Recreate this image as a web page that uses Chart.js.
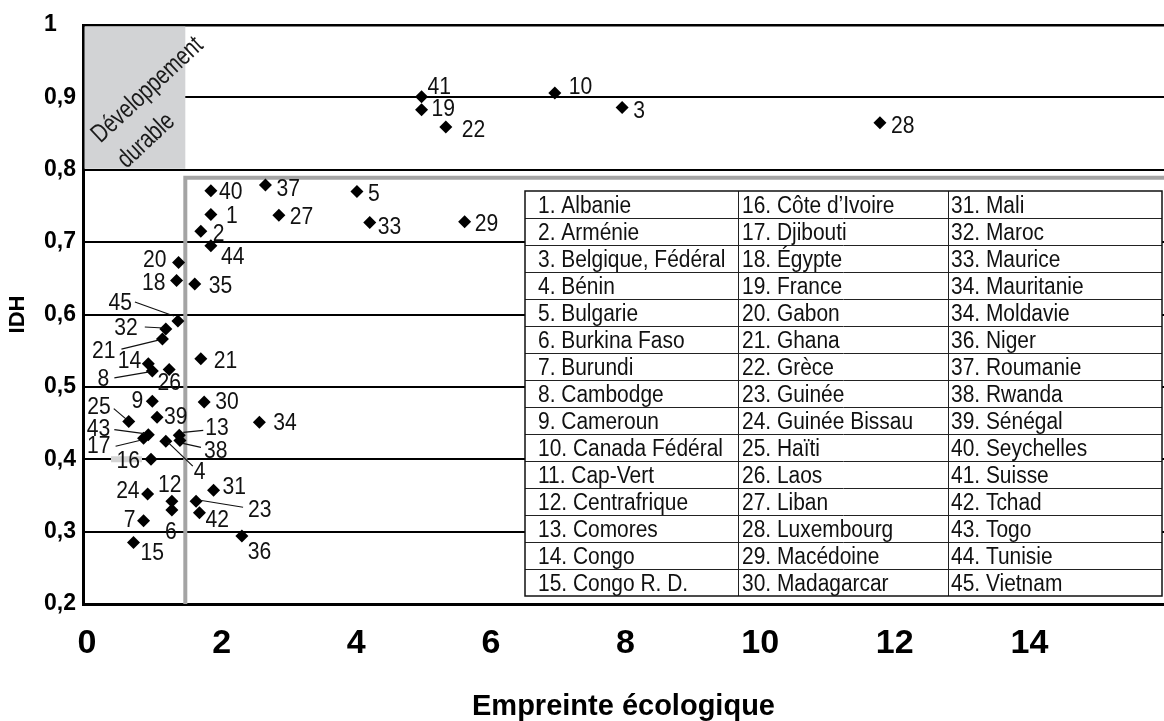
<!DOCTYPE html>
<html lang="fr">
<head>
<meta charset="utf-8">
<title>IDH et empreinte écologique</title>
<script src="https://cdn.jsdelivr.net/npm/chart.js@4.4.1/dist/chart.umd.min.js"></script>
<style>
  html, body { margin: 0; padding: 0; background: #fff; }
</style>
</head>
<body>
<canvas id="chart" width="1164" height="721"></canvas>
<script>
// point numbers (see the table), ecological footprint (x) and HDI (y)
const numbers = ['1', '2', '3', '4', '5', '6', '7', '8', '9', '10', '12', '13', '14', '15', '16',
  '17', '18', '19', '20', '21', '21', '22', '23', '24', '25', '26', '27', '28', '29', '30', '31',
  '32', '33', '34', '35', '36', '37', '38', '39', '40', '41', '42', '43', '44', '45'];
const footprint = [1.84, 1.69, 7.95, 1.17, 4.01, 1.26, 0.84, 0.97, 0.97, 6.95, 1.26, 1.37, 0.91,
  0.69, 0.95, 0.84, 1.33, 4.97, 1.36, 1.12, 1.69, 5.33, 1.62, 0.90, 0.62, 1.22, 2.85, 11.78, 5.61,
  1.74, 1.88, 1.17, 4.20, 2.56, 1.60, 2.30, 2.65, 1.38, 1.04, 1.84, 4.97, 1.67, 0.91, 1.84, 1.35];
const hdi = [0.738, 0.715, 0.886, 0.425, 0.770, 0.330, 0.315, 0.522, 0.480, 0.906, 0.342, 0.433,
  0.532, 0.285, 0.400, 0.429, 0.647, 0.883, 0.672, 0.566, 0.539, 0.859, 0.342, 0.352, 0.452, 0.524,
  0.737, 0.865, 0.728, 0.479, 0.357, 0.580, 0.727, 0.451, 0.642, 0.294, 0.779, 0.426, 0.458, 0.771,
  0.901, 0.326, 0.434, 0.695, 0.591];

const xTicks = [0, 2, 4, 6, 8, 10, 12, 14];
const yTicks = [0.2, 0.3, 0.4, 0.5, 0.6, 0.7, 0.8, 0.9, 1];
const sustainLimit = 1.46;  // footprint limit of the "développement durable" box
const frameHdi = 0.789;     // top of the grey frame

const countries = [
  '1. Albanie', '2. Arménie', '3. Belgique, Fédéral', '4. Bénin', '5. Bulgarie', '6. Burkina Faso',
  '7. Burundi', '8. Cambodge', '9. Cameroun', '10. Canada Fédéral', '11. Cap-Vert', '12. Centrafrique',
  '13. Comores', '14. Congo', '15. Congo R. D.',
  '16. Côte d\u2019Ivoire', '17. Djibouti', '18. Égypte', '19. France', '20. Gabon', '21. Ghana',
  '22. Grèce', '23. Guinée', '24. Guinée Bissau', '25. Haïti', '26. Laos', '27. Liban',
  '28. Luxembourg', '29. Macédoine', '30. Madagarcar',
  '31. Mali', '32. Maroc', '33. Maurice', '34. Mauritanie', '34. Moldavie', '36. Niger',
  '37. Roumanie', '38. Rwanda', '39. Sénégal', '40. Seychelles', '41. Suisse', '42. Tchad',
  '43. Togo', '44. Tunisie', '45. Vietnam'
];

// where each number sits next to its diamond: align, dx, dy, optional leader line
const labelPlace = [
  ['l', 15, 2], ['l', 12, 3], ['l', 11, 4], ['l', 28, 31, [2, 1, 27, 25]], ['l', 11, 3],
  ['c', -1, 22], ['r', -8, 0], ['r', -43, 8, [-38, 7, -3, 1]], ['r', -9, 0], ['l', 14, -6],
  ['c', -2, -16], ['l', 26, -7, [4, -3, 24, -5]], ['r', -7, -2], ['l', 7, 11], ['r', -11, 2],
  ['r', -33, 8, [-28, 8, -3, 2]], ['r', -11, 3], ['l', 10, 0], ['r', -12, -2],
  ['r', -47, 12, [-41, 10, -4, 1]], ['l', 13, 3], ['l', 16, 3], ['l', 52, 9, [4, -1, 47, 6]],
  ['r', -8, -3], ['r', -18, -14, [-15, -13, -2, -2]], ['c', 0, 14], ['l', 11, 2], ['l', 11, 4],
  ['l', 10, 3], ['l', 11, 0], ['l', 9, -3], ['r', -28, -1, [-21, -2, -2, -1]], ['l', 8, 5],
  ['l', 14, 1], ['l', 14, 2], ['l', 6, 16], ['l', 11, 4], ['l', 24, 11, [3, 3, 21, 7]],
  ['l', 7, 0], ['l', 8, 2], ['l', 6, -9], ['l', 6, 8], ['r', -38, -5, [-34, -5, -4, -1]],
  ['l', 10, 12], ['r', -46, -18, [-43, -19, -4, -5]]
];

const SANS = '"Liberation Sans", Arial, sans-serif';

// no narrow font installed: squeeze regular text horizontally
function narrowText(ctx, text, x, y, align, sx, rot) {
  ctx.save();
  ctx.translate(x, y);
  if (rot) ctx.rotate(rot);
  ctx.scale(sx, 1);
  ctx.textAlign = align;
  ctx.fillText(text, 0, 0);
  ctx.restore();
}

const decor = {
  id: 'decor',
  beforeDatasetsDraw(chart) {
    const { ctx, chartArea: a, scales: { x, y } } = chart;
    const xs = x.getPixelForValue(sustainLimit);
    const y8 = y.getPixelForValue(0.8);
    const yf = y.getPixelForValue(frameHdi);
    ctx.save();

    // grey box top left
    ctx.fillStyle = '#d2d3d5';
    ctx.fillRect(a.left + 1.5, a.top + 1.5, xs - a.left - 1.5, y8 - a.top - 2.5);
    ctx.fillStyle = '#1a1a1a';
    ctx.font = '26px ' + SANS;
    ctx.textBaseline = 'middle';
    const rot = -43 * Math.PI / 180;
    narrowText(ctx, 'Développement', x.getPixelForValue(0.9), y.getPixelForValue(0.91), 'center', 0.78, rot);
    narrowText(ctx, 'durable', x.getPixelForValue(0.88), y.getPixelForValue(0.84), 'center', 0.78, rot);

    // grey frame
    ctx.strokeStyle = '#a4a4a4';
    ctx.lineWidth = 4;
    ctx.beginPath();
    ctx.moveTo(xs, a.bottom);
    ctx.lineTo(xs, yf);
    ctx.lineTo(a.right + 2, yf);
    ctx.stroke();

    // country table
    const left = 525, top = 191, rowH = 27, cols = [525, 738, 948, 1162], pads = [13, 4, 3];
    const bottom = top + rowH * 15;
    ctx.fillStyle = '#fff';
    ctx.fillRect(left, top, cols[3] - left, bottom - top);
    ctx.strokeStyle = '#222';
    ctx.lineWidth = 1;
    ctx.beginPath();
    for (let r = 1; r < 15; r++) {
      ctx.moveTo(left, top + r * rowH + 0.5);
      ctx.lineTo(cols[3], top + r * rowH + 0.5);
    }
    ctx.moveTo(cols[1] + 0.5, top); ctx.lineTo(cols[1] + 0.5, bottom);
    ctx.moveTo(cols[2] + 0.5, top); ctx.lineTo(cols[2] + 0.5, bottom);
    ctx.stroke();
    ctx.lineWidth = 1.5;
    ctx.strokeStyle = '#111';
    ctx.strokeRect(left, top, cols[3] - left, bottom - top);
    ctx.fillStyle = '#111';
    ctx.font = '23px ' + SANS;
    ctx.textBaseline = 'alphabetic';
    countries.forEach((c, i) => {
      const col = Math.floor(i / 15), row = i % 15;
      narrowText(ctx, c, cols[col] + pads[col], top + row * rowH + 22, 'left', 0.91);
    });
    ctx.restore();
  },
  afterDatasetsDraw(chart) {
    const { ctx } = chart;
    const pts = chart.getDatasetMeta(0).data;
    ctx.save();
    ctx.font = '24px ' + SANS;
    ctx.textBaseline = 'middle';
    ctx.strokeStyle = '#111';
    ctx.lineWidth = 1.2;
    pts.forEach((p, i) => {
      const [al, dx, dy, lead] = labelPlace[i];
      if (numbers[i] === '16') {
        ctx.fillStyle = '#d4d4d4';
        ctx.fillRect(p.x - 40, p.y - 3, 31, 6);
      }
      if (lead) {
        ctx.beginPath();
        ctx.moveTo(p.x + lead[0], p.y + lead[1]);
        ctx.lineTo(p.x + lead[2], p.y + lead[3]);
        ctx.stroke();
      }
      ctx.fillStyle = '#111';
      const align = al === 'l' ? 'left' : al === 'r' ? 'right' : 'center';
      narrowText(ctx, numbers[i], p.x + dx, p.y + dy, align, 0.88);
    });
    ctx.restore();
  }
};

new Chart(document.getElementById('chart'), {
  type: 'scatter',
  data: {
    datasets: [{
      data: footprint.map((v, i) => ({ x: v, y: hdi[i] })),
      pointStyle: 'rectRot',
      pointRadius: 6.5,
      pointHoverRadius: 6.5,
      backgroundColor: '#000',
      borderWidth: 0
    }]
  },
  options: {
    responsive: false,
    animation: false,
    events: [],
    layout: { autoPadding: false, padding: { top: 25, right: 0, left: 0, bottom: 0 } },
    plugins: { legend: { display: false }, tooltip: { enabled: false } },
    scales: {
      x: {
        type: 'linear',
        min: -0.06,
        max: 16,
        afterBuildTicks: s => { s.ticks = xTicks.map(v => ({ value: v })); },
        afterFit: s => { s.height = 117; },
        grid: { display: false, drawTicks: false },
        border: { display: true, color: '#000', width: 3 },
        ticks: {
          color: '#000',
          padding: 23,
          maxRotation: 0,
          autoSkip: false,
          font: { family: SANS, size: 34, weight: 'bold', lineHeight: 1 }
        },
        title: {
          display: true,
          text: 'Empreinte écologique',
          color: '#000',
          padding: { top: 0, bottom: 0 },
          font: { family: SANS, size: 29, weight: 'bold', lineHeight: 1 }
        }
      },
      y: {
        min: 0.2,
        max: 1,
        afterBuildTicks: s => { s.ticks = yTicks.map(v => ({ value: v })); },
        afterFit: s => { s.width = 83; },
        grid: {
          color: '#000',
          drawTicks: false,
          lineWidth: c => (c.tick && c.tick.value === 1 ? 2.5 : 2)
        },
        border: { display: true, color: '#000', width: 3 },
        ticks: {
          color: '#000',
          padding: 7,
          font: { family: SANS, size: 23, weight: 'bold' },
          // "1" sits flush left with the other labels
          callback: v => (v === 1 ? '1   ' : v.toFixed(1).replace('.', ','))
        },
        title: {
          display: true,
          text: 'IDH',
          color: '#000',
          padding: { top: 6, bottom: 0 },
          font: { family: SANS, size: 22, weight: 'bold', lineHeight: 1.1 }
        }
      }
    }
  },
  plugins: [decor]
});
</script>
</body>
</html>
